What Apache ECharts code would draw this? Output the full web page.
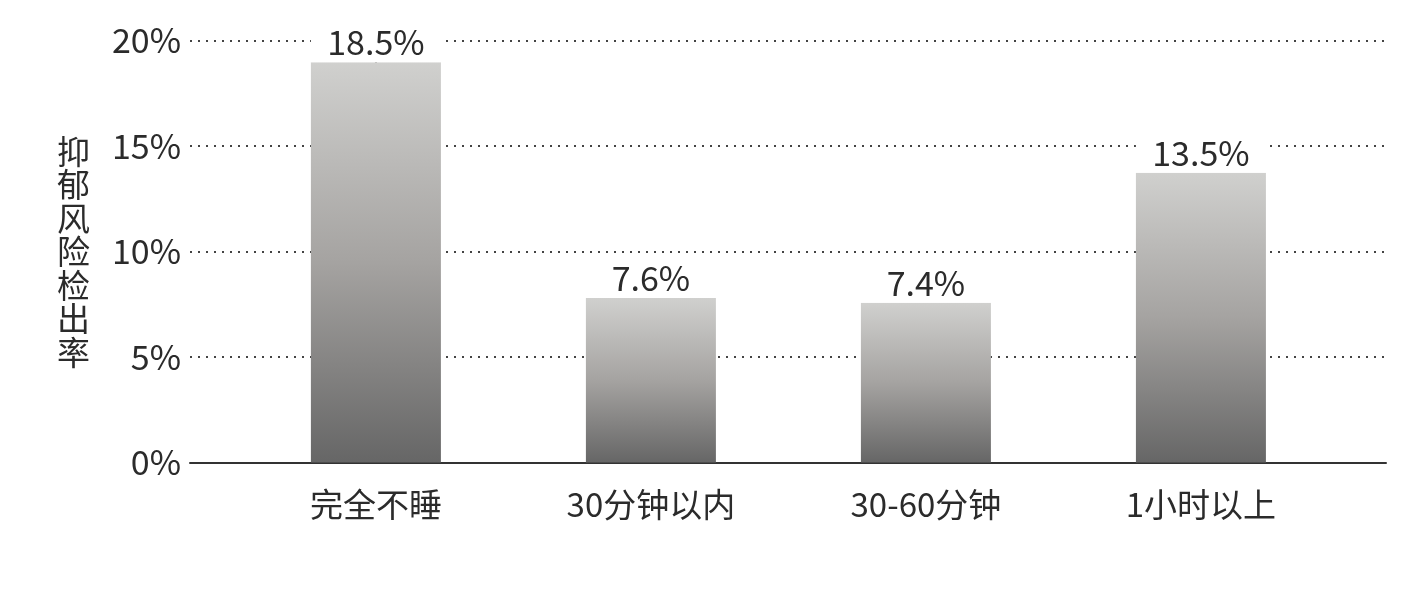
<!DOCTYPE html>
<html>
<head>
<meta charset="utf-8">
<script src="https://cdn.jsdelivr.net/npm/echarts@6/dist/echarts.min.js"></script>
<style>html,body{margin:0;padding:0;background:#fff;}#c{width:1426px;height:592px;}</style>
</head>
<body>
<div id="c"></div>
<script>
const categories = ['完全不睡', '30分钟以内', '30-60分钟', '1小时以上'];
const rates = [18.5, 7.6, 7.4, 13.5];            // printed value labels (%)
const barHeights = [18.97, 7.80, 7.57, 13.73];   // bar heights as drawn (%)
const yTicks = [0, 5, 10, 15, 20];

const FONT = '"Noto Sans CJK SC", "Noto Sans", sans-serif';
const TXT = '#2b2b2b';
const chart = echarts.init(document.getElementById('c'), null, {renderer: 'canvas'});
chart.setOption({
  animation: false,
  backgroundColor: '#fff',
  grid: {left: 190, right: 40, top: 40.5, bottom: 129.5, containLabel: false},
  xAxis: {
    type: 'value',
    min: -0.676, max: 3.673,
    splitLine: {show: false},
    axisLine: {show: true, onZero: false, lineStyle: {color: '#333', width: 2}},
    axisTick: {show: false},
    axisLabel: {
      customValues: categories.map((c, i) => i),
      formatter: v => categories[Math.round(v)],
      color: TXT, fontSize: 33, fontFamily: FONT, margin: 25
    }
  },
  yAxis: {
    type: 'value', min: yTicks[0], max: yTicks[yTicks.length - 1], interval: 5,
    name: '抑郁风险检出率'.split('').join('\n'),
    nameLocation: 'middle', nameGap: 100, nameRotate: 0,
    nameTextStyle: {color: TXT, fontSize: 33, fontFamily: FONT, lineHeight: 33.5},
    axisLine: {show: true, lineStyle: {color: '#444', width: 2, type: [2, 6]}},
    axisTick: {show: false},
    axisLabel: {formatter: v => v + '%', color: TXT, fontSize: 34, fontFamily: FONT, margin: 9},
    splitLine: {show: true, lineStyle: {color: '#444', width: 2, type: [2, 6]}}
  },
  series: [{
    type: 'bar',
    barWidth: 130,
    data: barHeights.map((h, i) => [i, h]),
    itemStyle: {
      color: new echarts.graphic.LinearGradient(0, 0, 0, 1, [
        {offset: 0, color: '#d0d0ce'},
        {offset: 0.5, color: '#a5a3a1'},
        {offset: 1, color: '#666666'}
      ])
    },
    label: {
      show: true, position: 'top', distance: 0,
      formatter: p => rates[p.dataIndex].toFixed(1) + '%',
      color: TXT, fontSize: 34, fontFamily: FONT,
      backgroundColor: '#fff', width: 130, align: 'center', padding: [0, 0, 3, 0]
    },
    z: 3
  }]
});
</script>
</body>
</html>
